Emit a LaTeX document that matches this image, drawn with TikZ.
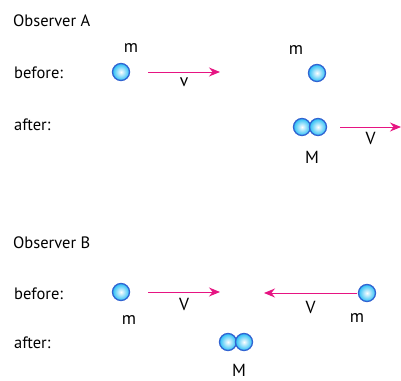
\documentclass[tikz,border=0pt]{standalone}
\usepackage{fontspec}
\setmainfont{PT Sans}
\definecolor{vmagenta}{RGB}{230,20,130}
\definecolor{ballblue}{RGB}{50,100,210}
\definecolor{ballcyan}{RGB}{40,190,245}
\usetikzlibrary{arrows.meta}

\begin{document}
\begin{tikzpicture}[x=1pt,y=-1pt,
  lbl/.style={font=\fontsize{16.5}{19}\selectfont,anchor=west,inner sep=0pt},
  sym/.style={font=\fontsize{17.5}{20}\selectfont,inner sep=0pt,text=black},
  ball/.style={circle,draw=ballblue,line width=1.3pt,minimum size=17pt,inner sep=0pt,
    inner color=white,outer color=ballcyan},
  varr/.style={-{Stealth[length=11pt,width=9pt]},line width=1pt,vmagenta}]
  \useasboundingbox (0,0) rectangle (401,380);
  % Observer A
  \node[lbl] (obsA) at (13,21) {Observer A};
  \node[lbl] (befA) at (14,73) {before:};
  \node[lbl] (aftA) at (14,125) {after:};
  \node[ball] (mA1) at (121,72) {};
  \node[sym] (mA1l) at (131,48) {m};
  \coordinate (vA0) at (148,72); \coordinate (vA1) at (220,72);
  \draw[varr] (vA0) -- (vA1) node[midway,below=5pt,sym]{v};
  \node[ball] (mA2) at (317,73) {};
  \node[sym] (mA2l) at (296,50) {m};
  \node[ball] (MA1) at (302,127) {};
  \node[ball] (MA2) at (318,127) {};
  \node[sym] (MAl) at (312,157) {M};
  \coordinate (VA0) at (340,127); \coordinate (VA1) at (401,127);
  \draw[varr] (VA0) -- (VA1) node[midway,below=5pt,sym]{V};
  % Observer B
  \node[lbl] (obsB) at (13,243) {Observer B};
  \node[lbl] (befB) at (14,294) {before:};
  \node[lbl] (aftB) at (14,343) {after:};
  \node[ball] (mB1) at (121,292) {};
  \node[sym] (mB1l) at (129,320) {m};
  \coordinate (VB0) at (148,292); \coordinate (VB1) at (220,292);
  \draw[varr] (VB0) -- (VB1) node[midway,below=6pt,sym]{V};
  \node[ball] (mB2) at (367,293) {};
  \node[sym] (mB2l) at (357,318) {m};
  \coordinate (VB2) at (357,293); \coordinate (VB3) at (264,293);
  \draw[varr] (VB2) -- (VB3) node[midway,below=8pt,sym]{V};
  \node[ball] (MB1) at (228,342) {};
  \node[ball] (MB2) at (244,342) {};
  \node[sym] (MBl) at (239,370) {M};
\end{tikzpicture}
\end{document}
